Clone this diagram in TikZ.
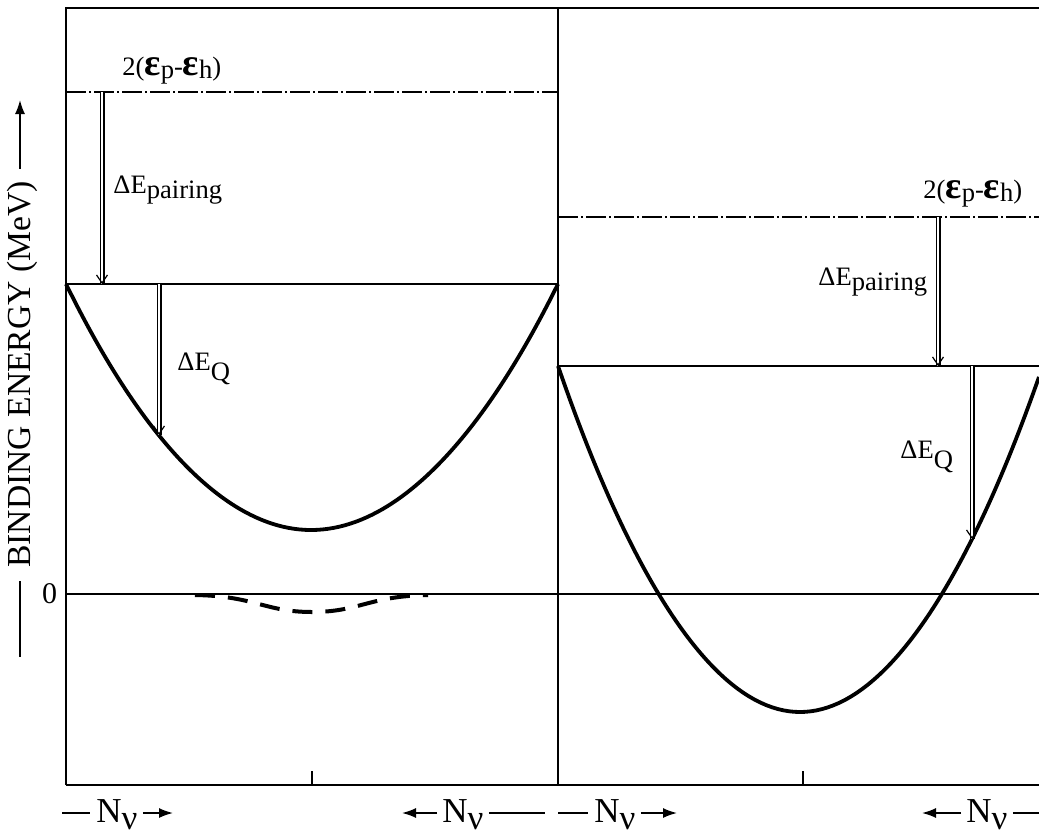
\documentclass[tikz,border=0pt]{standalone}
\usepackage{fontspec}
\setmainfont{Liberation Serif}
\usetikzlibrary{arrows.meta}
\newcommand{\lowr}[2]{\raisebox{-#1}{#2}}
\newcommand{\eps}{{\fontsize{19}{19}\selectfont\bfseries ε}}
\begin{document}
\begin{tikzpicture}[x=0.5pt,y=-0.5pt,
  frame/.style={line width=1.1pt},
  level/.style={line width=0.85pt},
  gapline/.style={line width=0.8pt,dash pattern=on 10pt off 1.5pt on 1pt off 1.5pt},
  curve/.style={line width=1.9pt},
  shaft/.style={double,double distance=1.2pt,line width=0.65pt},
  vtip/.style={-{Straight Barb[length=4pt,width=5.5pt,line width=0.6pt]}},
  lbl/.style={font=\fontsize{13.3}{15}\selectfont,inner sep=0pt},
  nlbl/.style={font=\fontsize{17.5}{18}\selectfont,inner sep=0pt},
  nvarrow/.style={line width=0.8pt,-{Latex[length=7pt,width=5pt]}},
  nvline/.style={line width=0.8pt}]
\useasboundingbox (0,0) rectangle (1039,836);
% frame
\coordinate (tl) at (66,8);
\coordinate (tm) at (558,8);
\coordinate (tr) at (1039,8);
\coordinate (bl) at (66,785);
\coordinate (bm) at (558,785);
\coordinate (br) at (1039,785);
\draw[frame] (bl) -- (tl) -- (tr);
\draw[frame] (tm) -- (bm);
\draw[frame] (bl) -- (br);
\coordinate (tk1) at (312,771);
\coordinate (tk2) at (803,771);
\draw[frame] (tk1) -- (tk1 |- bl);
\draw[frame] (tk2) -- (tk2 |- bl);
% zero level
\coordinate (z0) at (66,594);
\coordinate (z1) at (1039,594);
\draw[level] (z0) -- (z1);
\node[lbl,font=\fontsize{15}{16}\selectfont,anchor=base] (zero) at (49.5,603) {0};
% left panel
\coordinate (lg0) at (66,92);
\coordinate (lg1) at (558,92);
\draw[gapline] (lg0) -- (lg1);
\coordinate (lf0) at (66,284);
\coordinate (lf1) at (558,284);
\draw[level] (lf0) -- (lf1);
\draw[curve] (lf0) parabola bend (311,530) (lf1);
\draw[line width=2pt,dash pattern=on 10pt off 6.5pt] (195,595) .. controls (255,596) and (265,612) .. (312,612) .. controls (359,612) and (369,596) .. (428,595);
\coordinate (lpa) at (102,92);
\coordinate (lpb) at (102,284);
\draw[shaft] (lpa) -- (lpb);
\draw[vtip] (lpb) ++(0,-0.2) -- (lpb);
\coordinate (lqa) at (159,284);
\coordinate (lqb) at (159,435);
\draw[shaft] (lqa) -- (lqb);
\draw[vtip] (lqb) ++(0,-0.2) -- (lqb);
\node[lbl,anchor=base west] (lgap) at (122,75) {2(\eps\lowr{1.7pt}{p}-\eps\lowr{1.7pt}{h})};
\node[lbl,anchor=base west] (lpair) at (113,193) {ΔE\lowr{2.5pt}{pairing}};
\node[lbl,anchor=base west] (lq) at (177,370) {ΔE\lowr{5pt}{Q}};
% right panel
\coordinate (rg0) at (558,217);
\coordinate (rg1) at (1039,217);
\draw[gapline] (rg0) -- (rg1);
\coordinate (rf0) at (558,366);
\coordinate (rf1) at (1039,366);
\draw[level] (rf0) -- (rf1);
\draw[curve] (rf0) parabola bend (800,712) (1039,377);
\coordinate (rpa) at (938,217);
\coordinate (rpb) at (938,366);
\draw[shaft] (rpa) -- (rpb);
\draw[vtip] (rpb) ++(0,-0.2) -- (rpb);
\coordinate (rqa) at (972,366);
\coordinate (rqb) at (972,539);
\draw[shaft] (rqa) -- (rqb);
\draw[vtip] (rqb) ++(0,-0.2) -- (rqb);
\node[lbl,anchor=base west] (rgap) at (923,198) {2(\eps\lowr{1.7pt}{p}-\eps\lowr{1.7pt}{h})};
\node[lbl,anchor=base west] (rpair) at (818,285) {ΔE\lowr{2.5pt}{pairing}};
\node[lbl,anchor=base west] (rq) at (900,458) {ΔE\lowr{5pt}{Q}};
% N_nu labels
\node[nlbl,anchor=base west] (nl1) at (96,822) {N\lowr{3.8pt}{ν}};
\node[nlbl,anchor=base west] (nl2) at (442,822) {N\lowr{3.8pt}{ν}};
\node[nlbl,anchor=base west] (nr1) at (594,822) {N\lowr{3.8pt}{ν}};
\node[nlbl,anchor=base west] (nr2) at (966,822) {N\lowr{3.8pt}{ν}};
\coordinate (a1) at (62,813);
\coordinate (a2) at (173,813);
\coordinate (a3) at (402,813);
\coordinate (a4) at (545,813);
\coordinate (a5) at (558,813);
\coordinate (a6) at (677,813);
\coordinate (a7) at (922,813);
\coordinate (a8) at (1039,813);
\draw[nvline,shorten >=3pt] (a1) -- (a1 -| nl1.west);
\draw[nvarrow,shorten <=2.5pt] (a1 -| nl1.east) -- (a2);
\draw[nvarrow,shorten <=2.5pt] (a3 -| nl2.west) -- (a3);
\draw[nvline,shorten <=2.5pt] (a4 -| nl2.east) -- (a4);
\draw[nvline,shorten >=3pt] (a5) -- (a5 -| nr1.west);
\draw[nvarrow,shorten <=2.5pt] (a5 -| nr1.east) -- (a6);
\draw[nvarrow,shorten <=2.5pt] (a7 -| nr2.west) -- (a7);
\draw[nvline,shorten <=2.5pt] (a8 -| nr2.east) -- (a8);
% axis label
\node[nlbl,font=\fontsize{16.8}{17}\selectfont,rotate=90,anchor=base west] (ylab) at (30,568) {BINDING ENERGY (MeV)};
\coordinate (ytop) at (20,100);
\coordinate (ybot) at (20,657);
\draw[nvarrow,shorten <=6pt] (ytop |- ylab.east) -- (ytop);
\draw[nvline,shorten <=6.5pt] (ybot |- ylab.west) -- (ybot);
\end{tikzpicture}
\end{document}
